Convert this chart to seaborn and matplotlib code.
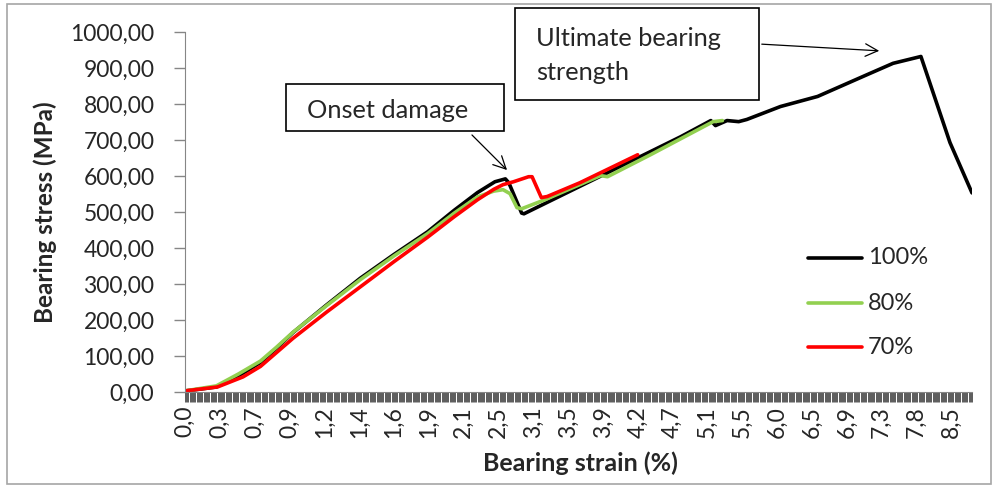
import numpy as np
import pandas as pd
import matplotlib
matplotlib.use("Agg")
import matplotlib.pyplot as plt
from matplotlib.patches import Rectangle, FancyArrowPatch
from matplotlib.ticker import FixedLocator, MultipleLocator
import seaborn as sns

# Category index (sample position along the strain axis) and bearing stress (MPa)
idx_100 = [0, 13, 27, 39, 52, 65, 79, 93, 122, 151, 180, 209, 232, 252, 267, 276, 279,
           290, 292, 364, 427, 453, 457, 467, 477, 484, 513, 545, 588, 610, 634, 659, 678]
stress_100 = [3, 8, 14, 33, 56, 82, 122, 165, 242, 316, 382, 445, 505, 554, 584, 592, 581,
              497, 495, 609, 709, 754, 740, 754, 751, 757, 793, 821, 882, 913, 932, 693, 553]

idx_80 = [0, 27, 46, 65, 79, 93, 122, 151, 180, 209, 232, 252, 266, 274, 280, 286, 290,
          310, 358, 364, 401, 455, 463]
stress_80 = [3, 17, 50, 86, 125, 166, 240, 312, 378, 440, 497, 542, 558, 562, 551, 512, 509,
             534, 601, 598, 659, 751, 754]

idx_70 = [0, 28, 50, 65, 79, 93, 122, 151, 180, 209, 232, 252, 266, 274, 283, 296, 299,
          307, 312, 340, 390]
stress_70 = [3, 14, 42, 71, 110, 149, 222, 292, 362, 430, 487, 534, 563, 576, 584, 598, 598,
             540, 543, 581, 659]

series_names = ["100%", "80%", "70%"]
series_colors = ["#000000", "#92D050", "#FF0000"]

# Strain tick labels (every 30th category)
strain_labels = ["0,0", "0,3", "0,7", "0,9", "1,2", "1,4", "1,6", "1,9", "2,1", "2,5",
                 "3,1", "3,5", "3,9", "4,2", "4,7", "5,1", "5,5", "6,0", "6,5", "6,9",
                 "7,3", "7,8", "8,5"]
n_categories = 679
label_step = 30

df = pd.concat([
    pd.DataFrame({"idx": idx_100, "stress": stress_100, "series": "100%"}),
    pd.DataFrame({"idx": idx_80, "stress": stress_80, "series": "80%"}),
    pd.DataFrame({"idx": idx_70, "stress": stress_70, "series": "70%"}),
])

sns.set_style("white")
plt.rcParams["font.family"] = ["Lato", "DejaVu Sans"]

W, H = 996, 488
fig = plt.figure(figsize=(W / 100, H / 100), dpi=100)

def fx(px):
    return px / W

def fy(py):
    return 1 - py / H

ax = fig.add_axes([fx(185), fy(392), fx(972) - fx(185), fy(32) - fy(392)])

sns.lineplot(data=df, x="idx", y="stress", hue="series", hue_order=series_names,
             palette=series_colors, linewidth=2.6, sort=False, estimator=None,
             ax=ax, legend=False)
for line in ax.get_lines():
    line.set_solid_joinstyle("round")
    line.set_solid_capstyle("round")

ax.set_xlim(0, n_categories - 1)
ax.set_ylim(0, 1000)

# y axis
ax.set_yticks(np.arange(0, 1001, 100))
ax.set_yticklabels([f"{v:.2f}".replace(".", ",") for v in np.arange(0, 1001, 100)],
                   fontsize=16.5)
ax.tick_params(axis="y", length=8, width=1, color="#868686", pad=14, left=True)

# x axis: a tick per category, labels every 30th
ax.xaxis.set_major_locator(FixedLocator(np.arange(0, n_categories, label_step)))
ax.set_xticklabels(strain_labels, rotation=90, fontsize=16.5)
ax.xaxis.set_minor_locator(MultipleLocator(1))
ax.tick_params(axis="x", which="both", length=7, width=0.6, color="#404040",
               pad=3, bottom=True)

for s in ["top", "right"]:
    ax.spines[s].set_visible(False)
ax.spines["left"].set_color("#868686")
ax.spines["bottom"].set_color("#868686")
ax.set_xlabel("")
ax.set_ylabel("")

fig.text(fx(45), fy(212), "Bearing stress (MPa)", rotation=90, ha="center",
         va="center", fontsize=17.5, fontweight="bold")
fig.text(fx(580), fy(463), "Bearing strain (%)", ha="center", va="center",
         fontsize=18, fontweight="bold")

# Legend drawn as lines with labels
leg_y = [258, 303, 347]
for name, col, py in zip(series_names, series_colors, leg_y):
    fig.add_artist(plt.Line2D([fx(808), fx(862)], [fy(py), fy(py)], color=col,
                              linewidth=2.6, solid_capstyle="round",
                              transform=fig.transFigure))
    fig.text(fx(868), fy(py), name, ha="left", va="center", fontsize=17)

# Annotation boxes
fig.add_artist(Rectangle((fx(286), fy(131)), fx(504) - fx(286), fy(84) - fy(131),
                         transform=fig.transFigure, fill=True, facecolor="white",
                         edgecolor="black", linewidth=1.2))
fig.text(fx(307), fy(111), "Onset damage", ha="left", va="center", fontsize=18.3)

fig.add_artist(Rectangle((fx(515), fy(100)), fx(759) - fx(515), fy(8) - fy(100),
                         transform=fig.transFigure, fill=True, facecolor="white",
                         edgecolor="black", linewidth=1.2))
fig.text(fx(536), fy(38), "Ultimate bearing", ha="left", va="center", fontsize=18.3)
fig.text(fx(536), fy(73), "strength", ha="left", va="center", fontsize=18.3)

# Arrows
for a, b in [((470, 133), (509, 172)), ((759, 44), (882, 51))]:
    fig.add_artist(FancyArrowPatch((fx(a[0]), fy(a[1])), (fx(b[0]), fy(b[1])),
                                   transform=fig.transFigure,
                                   arrowstyle="->,head_length=9,head_width=4.5",
                                   mutation_scale=1, color="black", linewidth=0.9))

# Chart area border
fig.add_artist(Rectangle((fx(7), fy(484)), fx(991) - fx(7), fy(4) - fy(484),
                         transform=fig.transFigure, fill=False,
                         edgecolor="#A6A6A6", linewidth=1.2))

fig.savefig("out.png", dpi=100)
